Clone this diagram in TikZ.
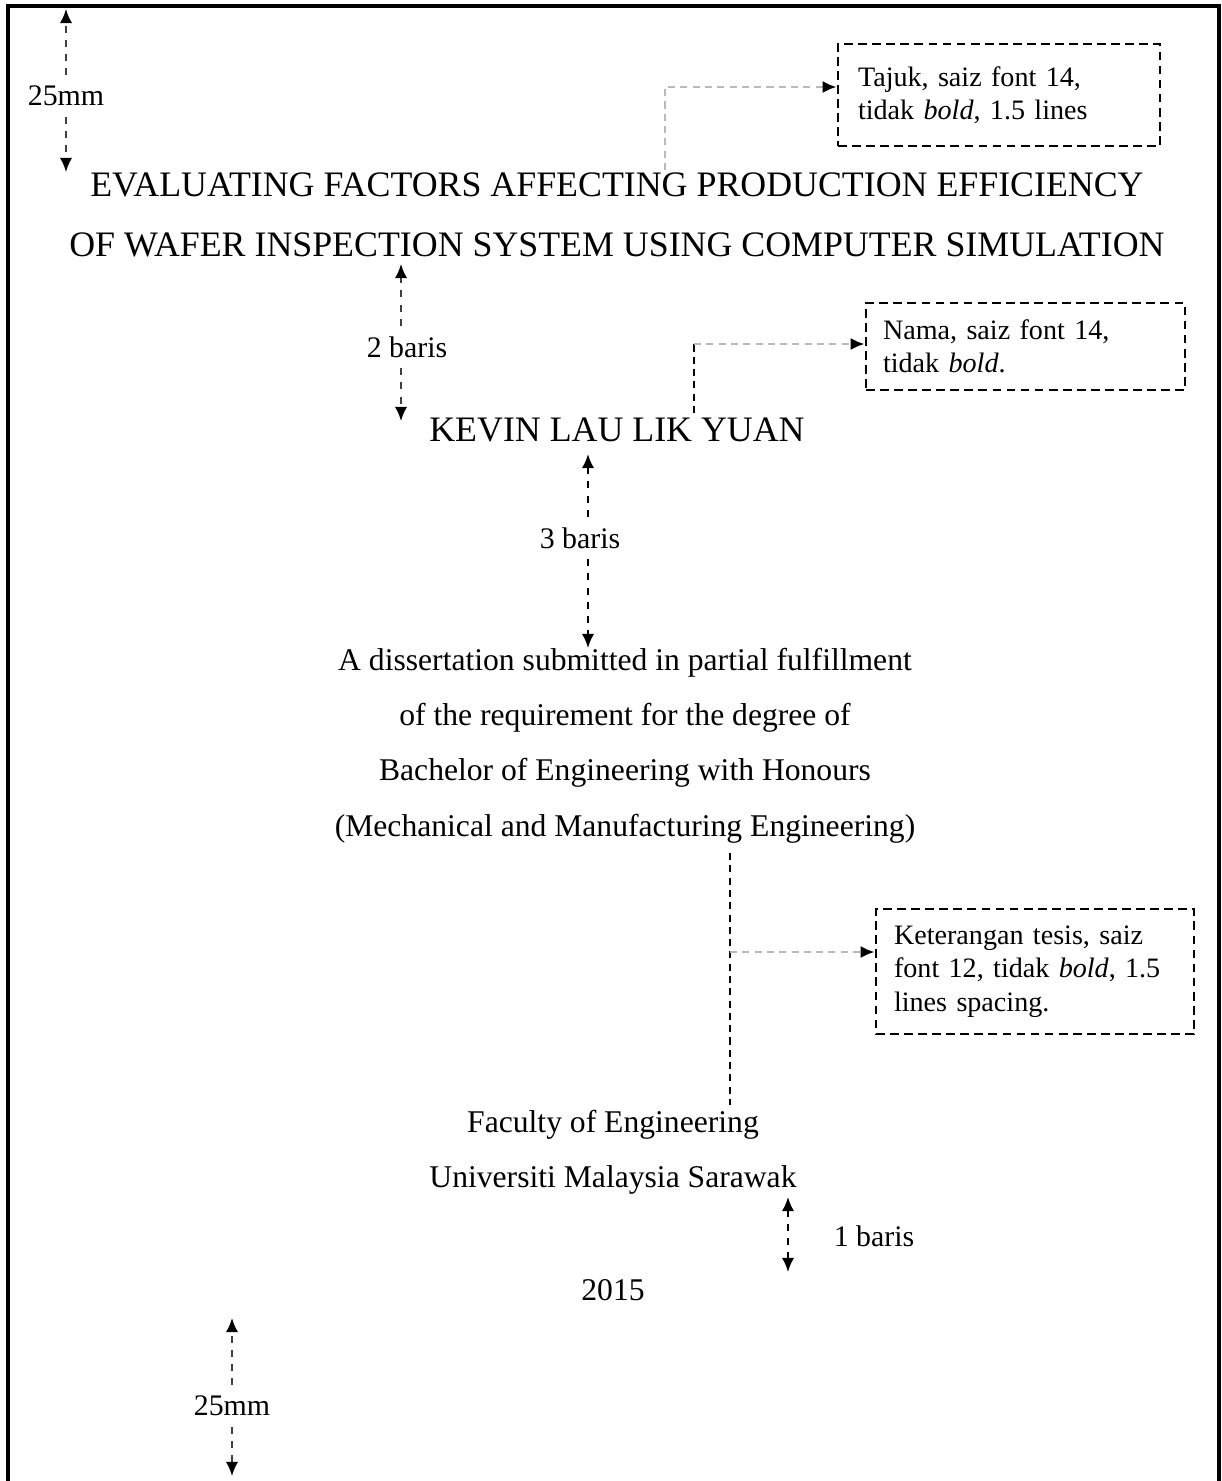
\documentclass[tikz,border=0pt]{standalone}
\usepackage{fontspec}
\setmainfont{Liberation Serif}
\usetikzlibrary{arrows.meta}

\tikzset{
  dimline/.style={-{Latex[length=8pt,width=7pt,black]}, black!75, dash pattern=on 4pt off 4pt, line width=1.2pt, shorten <=4pt},
  leader/.style={black, dash pattern=on 4pt off 3pt, line width=1pt},
  greyleader/.style={-{Latex[length=8pt,width=7pt,black]}, gray!55, dash pattern=on 4pt off 3pt, line width=1.6pt},
  notebox/.style={draw, line width=1.6pt, dash pattern=on 5pt off 3pt, align=left, inner ysep=0pt, font=\fontsize{16}{19}\selectfont},
  titletext/.style={font=\fontsize{20.4}{24}\selectfont},
  bodytext/.style={font=\fontsize{18}{22}\selectfont},
  dimlabel/.style={font=\fontsize{17}{21}\selectfont, inner sep=2pt}
}

\begin{document}
\begin{tikzpicture}[x=0.02cm, y=-0.02cm]
  \useasboundingbox (0,0) rectangle (1222,1481);
  % page edge
  \draw [line width=2pt] (8,1481) -- (8,6) -- (1219,6) -- (1219,1481);

  % title page text
  \node [titletext] (title1) at (617,185) {EVALUATING FACTORS AFFECTING PRODUCTION EFFICIENCY};
  \node [titletext] (title2) at (617,245) {OF WAFER INSPECTION SYSTEM USING COMPUTER SIMULATION};
  \node [titletext] (name) at (617,430) {KEVIN LAU LIK YUAN};
  \node [bodytext] (desc1) at (625,663) {A dissertation submitted in partial fulfillment};
  \node [bodytext] (desc2) at (625,718) {of the requirement for the degree of};
  \node [bodytext] (desc3) at (625,773) {Bachelor of Engineering with Honours};
  \node [bodytext] (desc4) at (625,829) {(Mechanical and Manufacturing Engineering)};
  \node [bodytext] (fac) at (613,1125) {Faculty of Engineering};
  \node [bodytext] (uni) at (613,1180) {Universiti Malaysia Sarawak};
  \node [bodytext] (year) at (613,1290) {2015};

  % notes
  \node [notebox, minimum width=6.44cm, minimum height=2.04cm, inner xsep=0.4cm, text width=5.64cm] (box1) at (999,95)
    {Tajuk, saiz font 14,\\ tidak \textit{bold}, 1.5 lines};
  \node [notebox, minimum width=6.38cm, minimum height=1.74cm, inner xsep=0.34cm, text width=5.7cm] (box2) at (1025.5,346.5)
    {Nama, saiz font 14,\\ tidak \textit{bold}.};
  \node [notebox, minimum width=6.36cm, minimum height=2.5cm, inner xsep=0.36cm, text width=5.64cm] (box3) at (1035,971.5)
    {Keterangan tesis, saiz\\ font 12, tidak \textit{bold}, 1.5\\ lines spacing.};

  % leaders to the notes
  \coordinate (c1) at (665,170);
  \draw [greyleader] (c1) |- ([yshift=0.16cm]box1.west);
  \coordinate (c2) at (694,413);
  \coordinate (c2k) at (694,344);
  \draw [leader] (c2) -- (c2k);
  \draw [greyleader] (c2k) -- (c2k -| box2.west);
  \coordinate (c3a) at (730,853);
  \coordinate (c3b) at (730,1105);
  \coordinate (c3k) at (730,952);
  \draw [leader] (c3a) -- (c3b);
  \draw [greyleader] (c3k) -- (c3k -| box3.west);

  % spacing marks
  \node [dimlabel] (mmtop) at (66,96) {25mm};
  \coordinate (mmtopa) at (66,9);
  \coordinate (mmtopb) at (66,172);
  \draw [dimline] (mmtop) -- (mmtopa);
  \draw [dimline] (mmtop) -- (mmtopb);

  \node [dimlabel] (twob) at (407,347) {2 baris};
  \coordinate (twoba) at (401,264);
  \coordinate (twobb) at (401,421);
  \draw [dimline] (twoba |- twob.north) -- (twoba);
  \draw [dimline] (twobb |- twob.south) -- (twobb);

  \node [dimlabel] (threeb) at (580,538) {3 baris};
  \coordinate (threeba) at (588,454);
  \coordinate (threebb) at (588,648);
  \draw [dimline, black] (threeba |- threeb.north) -- (threeba);
  \draw [dimline, black] (threebb |- threeb.south) -- (threebb);

  \coordinate (oneba) at (788,1197);
  \coordinate (onebb) at (788,1272);
  \draw [dimline, black, {Latex[length=8pt,width=7pt]}-{Latex[length=8pt,width=7pt]}, shorten <=0pt] (oneba) -- (onebb);
  \node [dimlabel] (oneb) at (874,1236) {1 baris};

  \node [dimlabel] (mmbot) at (232,1406) {25mm};
  \coordinate (mmbota) at (232,1318);
  \coordinate (mmbotb) at (232,1476);
  \draw [dimline] (mmbot) -- (mmbota);
  \draw [dimline] (mmbot) -- (mmbotb);
\end{tikzpicture}
\end{document}
